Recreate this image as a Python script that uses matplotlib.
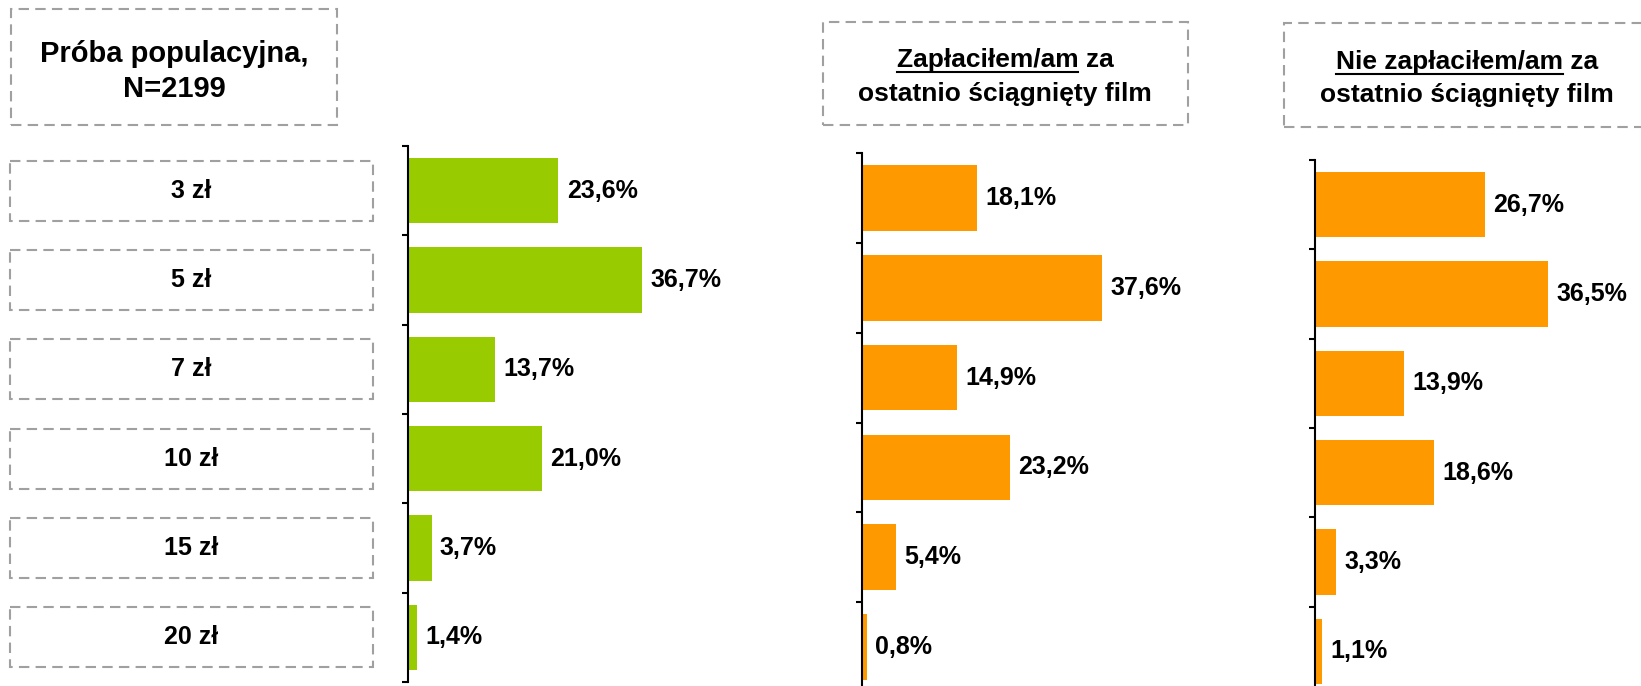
import matplotlib
matplotlib.use("Agg")
import matplotlib.pyplot as plt
from matplotlib.patches import Rectangle
from matplotlib.lines import Line2D
from matplotlib.transforms import blended_transform_factory

plt.rcParams['font.family'] = ['Liberation Sans', 'DejaVu Sans']
plt.rcParams['font.weight'] = 'bold'

categories = ['3 zł', '5 zł', '7 zł', '10 zł', '15 zł', '20 zł']
total = [23.6, 36.7, 13.7, 21.0, 3.7, 1.4]
paid = [18.1, 37.6, 14.9, 23.2, 5.4, 0.8]
not_paid = [26.7, 36.5, 13.9, 18.6, 3.3, 1.1]

GREEN = '#99CC00'
ORANGE = '#FF9900'
BOX = '#A0A0A0'

W, H = 1641, 686
fig = plt.figure(figsize=(W / 100, H / 100), dpi=100)

def fx(px): return px / W
def fy(py): return 1 - py / H

def panel(x0, top, bottom, vals, color):
    ax = fig.add_axes([fx(x0), fy(bottom), fx(255), (bottom - top) / H])
    y = list(range(len(vals)))
    ax.barh(y, vals, height=0.73, color=color, zorder=2)
    for yi, v in zip(y, vals):
        ax.annotate(f'{v:.1f}%'.replace('.', ','), (v, yi), xytext=(6, 0),
                    textcoords='offset points', va='center', ha='left',
                    fontsize=18, fontweight='bold')
    ax.set_xlim(0, 40)
    ax.set_ylim(len(vals) - 0.5, -0.5)
    ax.set_yticks([i - 0.5 for i in range(len(vals) + 1)])
    ax.set_yticklabels([])
    ax.set_xticks([])
    for s in ['top', 'right', 'bottom']:
        ax.spines[s].set_visible(False)
    ax.spines['left'].set_linewidth(1.5)
    ax.tick_params(axis='y', direction='out', length=4, width=1.5)
    ax.patch.set_alpha(0)
    return ax

ax1 = panel(408, 146, 682, total, GREEN)
ax2 = panel(862, 153, 692, paid, ORANGE)
ax3 = panel(1315, 160, 696, not_paid, ORANGE)

# category label boxes
tr = blended_transform_factory(fig.transFigure, ax1.transData)
for i, c in enumerate(categories):
    r = Rectangle((fx(10), i - 0.336), fx(363), 0.672, transform=tr, fill=False,
                  edgecolor=BOX, linewidth=1.5, linestyle=(0, (5, 3)), clip_on=False)
    fig.add_artist(r)
    fig.text(fx(191), 0, c, transform=blended_transform_factory(fig.transFigure, ax1.transData),
             ha='center', va='center', fontsize=18, fontweight='bold')
    fig.texts[-1].set_y(i)

# title boxes
def tbox(x0, y0, x1, y1):
    fig.add_artist(Rectangle((fx(x0), fy(y1)), fx(x1 - x0), (y1 - y0) / H,
                             transform=fig.transFigure, fill=False, edgecolor=BOX,
                             linewidth=1.5, linestyle=(0, (5, 3)), clip_on=False))

tbox(11, 9, 337, 125)
tbox(823, 22, 1188, 125)
tbox(1284, 23, 1660, 127)

fig.text(fx(174), fy(62), 'Próba populacyjna,', ha='center', va='baseline', fontsize=21)
fig.text(fx(174), fy(97), 'N=2199', ha='center', va='baseline', fontsize=21)

titles = [
    (1005, 67, 101, 'Zapłaciłem/am', ' za'),
    (1467, 69, 102, 'Nie zapłaciłem/am', ' za'),
]
fig.canvas.draw()
rend = fig.canvas.get_renderer()
for cx, b1, b2, under, rest in titles:
    t = fig.text(fx(cx), fy(b1), under + rest, ha='center', va='baseline', fontsize=19)
    fig.text(fx(cx), fy(b2), 'ostatnio ściągnięty film', ha='center', va='baseline', fontsize=19)
    bb = t.get_window_extent(rend)
    m = fig.text(0, 0, under, fontsize=19, alpha=0)
    w = m.get_window_extent(rend).width
    ypix = H - (b1 + 5)
    fig.add_artist(Line2D([bb.x0 / W, (bb.x0 + w) / W], [ypix / H, ypix / H],
                          color='black', linewidth=1.5, transform=fig.transFigure))

fig.savefig('out.png', dpi=100, facecolor='white')
